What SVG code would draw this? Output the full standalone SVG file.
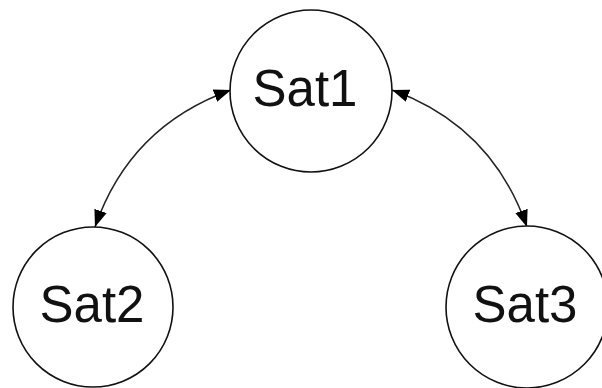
<svg xmlns="http://www.w3.org/2000/svg" width="602" height="388" viewBox="0 0 602 388">
<style>
.node circle{fill:#fff;stroke:#111;stroke-width:1.6}
.node text{font-family:"Liberation Sans",Arial,sans-serif;font-size:51px;fill:#111;text-anchor:middle}
.edge{fill:none;stroke:#222;stroke-width:1.5;marker-start:url(#ah);marker-end:url(#ah)}
</style>
<defs>
<marker id="ah" viewBox="0 0 17 13" refX="17" refY="6.5" markerWidth="17" markerHeight="13" markerUnits="userSpaceOnUse" orient="auto-start-reverse">
<path d="M0,0 L17,6.5 L0,13 Z" fill="#000"/>
</marker>
</defs>
<rect width="602" height="388" fill="#fff"/>
<g id="connectors">
<path class="edge" d="M231,90 Q130,126 95,227"/>
<path class="edge" d="M392,90 Q492,126 527,227"/>
</g>
<g id="sat1" class="node">
<circle cx="311" cy="91" r="81"/>
<text x="305" y="106">Sat1</text>
</g>
<g id="sat2" class="node">
<circle cx="93" cy="307" r="80"/>
<text x="92" y="322">Sat2</text>
</g>
<g id="sat3" class="node">
<circle cx="527" cy="307" r="81"/>
<text x="525" y="322">Sat3</text>
</g>
</svg>
